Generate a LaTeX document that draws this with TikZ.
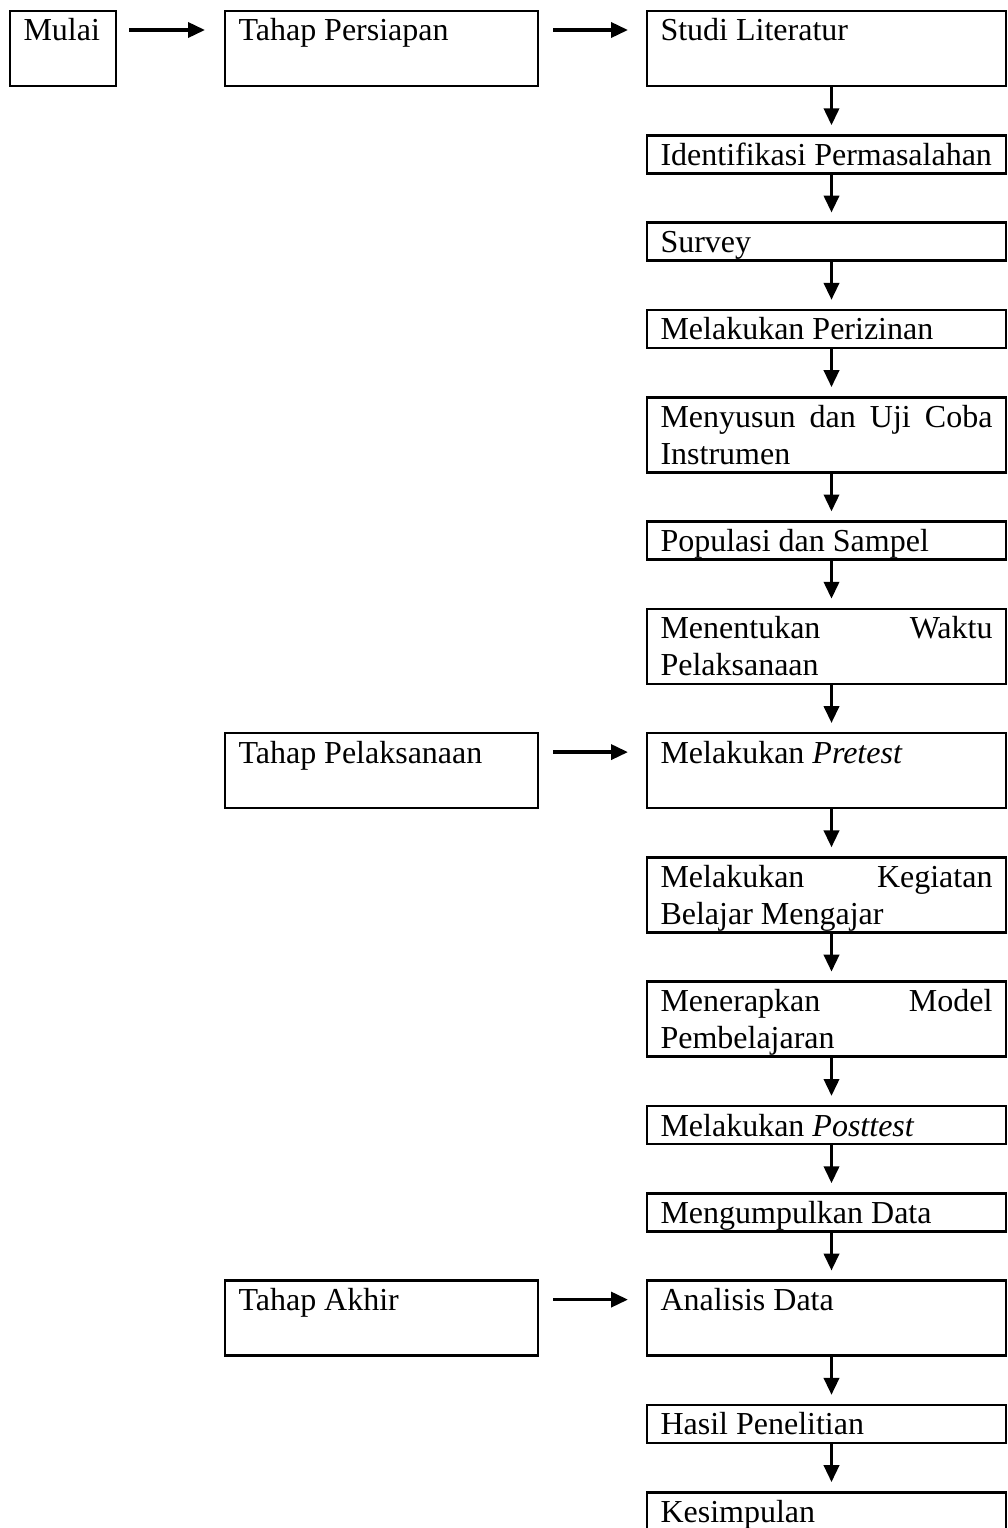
\documentclass[tikz,border=0pt]{standalone}
\usepackage{fontspec}
\setmainfont{Liberation Serif}
\usetikzlibrary{arrows.meta,positioning}
\hyphenpenalty=10000
\tolerance=10000
\hbadness=10000

\begin{document}
\begin{tikzpicture}[x=1pt,y=1pt,
    box/.style={draw, line width=2.6pt, anchor=north west, inner xsep=13.5pt, inner ysep=0pt,
      outer sep=0pt, align=justify, text height=30pt, text depth=8pt,
      font=\fontsize{32}{37}\selectfont},
    tallbox/.style={box, text depth=45pt},
    stage/.style={tallbox, text width=286pt},
    flow/.style={text width=332pt},
    arr/.style={line width=3.6pt, -{Triangle[length=17pt,width=15pt]}},
    node distance=49.3pt]
      \useasboundingbox (0,0) rectangle (1007,-1528);

      \node[tallbox, text width=79pt] (mulai) at (10,-11) {Mulai};
      \node[stage] (persiapan) at (225,-11) {Tahap Persiapan};

      \node[tallbox, flow] (studi) at (647,-11) {Studi Literatur};
      \node[box, flow, below=of studi] (identifikasi) {Identifikasi Permasalahan};
      \node[box, flow, below=of identifikasi] (survey) {Survey};
      \node[box, flow, below=of survey] (perizinan) {Melakukan Perizinan};
      \node[tallbox, flow, below=of perizinan] (instrumen) {Menyusun dan Uji Coba Instrumen};
      \node[box, flow, below=of instrumen] (populasi) {Populasi dan Sampel};
      \node[tallbox, flow, below=of populasi] (waktu) {Menentukan Waktu Pelaksanaan};
      \node[tallbox, flow, below=of waktu] (pretest) {Melakukan \textit{Pretest}};
      \node[tallbox, flow, below=of pretest] (kbm) {Melakukan Kegiatan Belajar Mengajar};
      \node[tallbox, flow, below=of kbm] (model) {Menerapkan Model Pembelajaran};
      \node[box, flow, below=of model] (posttest) {Melakukan \textit{Posttest}};
      \node[box, flow, below=of posttest] (data) {Mengumpulkan Data};
      \node[tallbox, flow, below=of data] (analisis) {Analisis Data};
      \node[box, flow, below=of analisis] (hasil) {Hasil Penelitian};
      \node[box, flow, below=of hasil] (kesimpulan) {Kesimpulan};

      \node[stage] (pelaksanaan) at (persiapan.north west |- pretest.north) {Tahap Pelaksanaan};
      \node[stage] (akhir) at (persiapan.north west |- analisis.north) {Tahap Akhir};

      \draw[arr] ([shift={(13pt,-19pt)}]mulai.north east) -- ([shift={(-20pt,-19pt)}]persiapan.north west);
      \foreach \a/\b in {persiapan/studi, pelaksanaan/pretest, akhir/analisis}
        \draw[arr] ([shift={(15pt,-19pt)}]\a.north east) -- ([shift={(-19pt,-19pt)}]\b.north west);

      \foreach \a/\b in {studi/identifikasi, identifikasi/survey, survey/perizinan,
          perizinan/instrumen, instrumen/populasi, populasi/waktu, waktu/pretest,
          pretest/kbm, kbm/model, model/posttest, posttest/data, data/analisis,
          analisis/hasil, hasil/kesimpulan}
        \draw[arr, shorten >=10pt] ([xshift=5pt]\a.south) -- ([xshift=5pt]\b.north);

    \end{tikzpicture}
\end{document}
